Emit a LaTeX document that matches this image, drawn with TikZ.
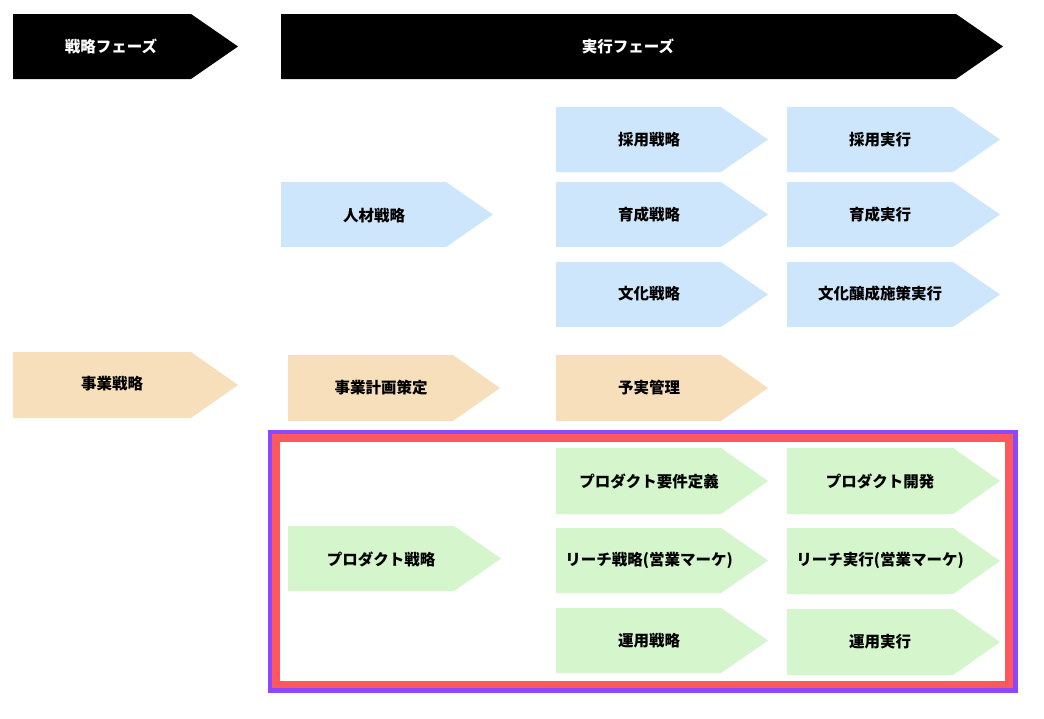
\documentclass[tikz,border=0pt]{standalone}
\usepackage{fontspec}
\setmainfont{Noto Sans CJK JP}
\definecolor{cblue}{RGB}{205,230,251}
\definecolor{corange}{RGB}{247,223,188}
\definecolor{cgreen}{RGB}{213,245,204}
\definecolor{cpurple}{RGB}{139,72,255}
\definecolor{cred}{RGB}{255,88,92}
\newcommand\pentshape[6]{%
  \fill[#2] (#3,#4) -- ({#5-47},#4) -- (#5,{(#4+#6)/2}) -- ({#5-47},#6) -- (#3,#6) -- cycle;}
\tikzset{
  lbl/.style={font=\fontsize{15.5}{18}\selectfont\bfseries, text=black, inner sep=0pt},
  wlbl/.style={lbl, text=white},
}
\begin{document}
\begin{tikzpicture}[x=1pt,y=-1pt]
\useasboundingbox (0,0) rectangle (1044,718);
% phase bars
\pentshape{p1}{black}{13}{14}{238}{79}
\node[wlbl] (phase1) at (111,46) {戦略フェーズ};
\pentshape{p2}{black}{281}{14}{1003}{79}
\node[wlbl] (phase2) at (628,46) {実行フェーズ};
% human resources
\pentshape{}{cblue}{281}{182}{493}{247}
\node[lbl] (jinzai) at (374,216) {人材戦略};
\pentshape{}{cblue}{556}{107}{768}{172}
\node[lbl] (saiyos) at (649,140) {採用戦略};
\pentshape{}{cblue}{556}{182}{768}{247}
\node[lbl] (ikuseis) at (649,215) {育成戦略};
\pentshape{}{cblue}{556}{262}{768}{327}
\node[lbl] (bunkas) at (649,294) {文化戦略};
\pentshape{}{cblue}{787}{107}{1000}{172}
\node[lbl] (saiyoj) at (880,140) {採用実行};
\pentshape{}{cblue}{787}{182}{1000}{247}
\node[lbl] (ikuseij) at (880,215) {育成実行};
\pentshape{}{cblue}{787}{262}{1000}{327}
\node[lbl] (bunkaj) at (880,294) {文化醸成施策実行};
% business
\pentshape{}{corange}{13}{352}{238}{418}
\node[lbl] (jigyo) at (112,384) {事業戦略};
\pentshape{}{corange}{288}{355}{500}{421}
\node[lbl] (keikaku) at (381,388) {事業計画策定};
\pentshape{}{corange}{556}{355}{768}{421}
\node[lbl] (yojitsu) at (649,388) {予実管理};
% frame
\fill[cpurple] (268,430) rectangle (1018,693);
\fill[cred] (272,434) rectangle (1013,688);
\fill[white] (280,442) rectangle (1005,681);
% product
\pentshape{}{cgreen}{288}{526}{501}{591}
\node[lbl] (prods) at (381,559) {プロダクト戦略};
\pentshape{}{cgreen}{556}{448}{768}{514}
\node[lbl] (youken) at (649,481) {プロダクト要件定義};
\pentshape{}{cgreen}{556}{528}{768}{593}
\node[lbl] (reachs) at (649,560) {リーチ戦略(営業マーケ)};
\pentshape{}{cgreen}{556}{608}{768}{673}
\node[lbl] (unyos) at (649,641) {運用戦略};
\pentshape{}{cgreen}{787}{448}{1000}{514}
\node[lbl] (kaihatsu) at (880,481) {プロダクト開発};
\pentshape{}{cgreen}{787}{528}{1000}{594}
\node[lbl] (reachj) at (880,560) {リーチ実行(営業マーケ)};
\pentshape{}{cgreen}{787}{609}{1000}{675}
\node[lbl] (unyoj) at (880,642) {運用実行};
\end{tikzpicture}
\end{document}
